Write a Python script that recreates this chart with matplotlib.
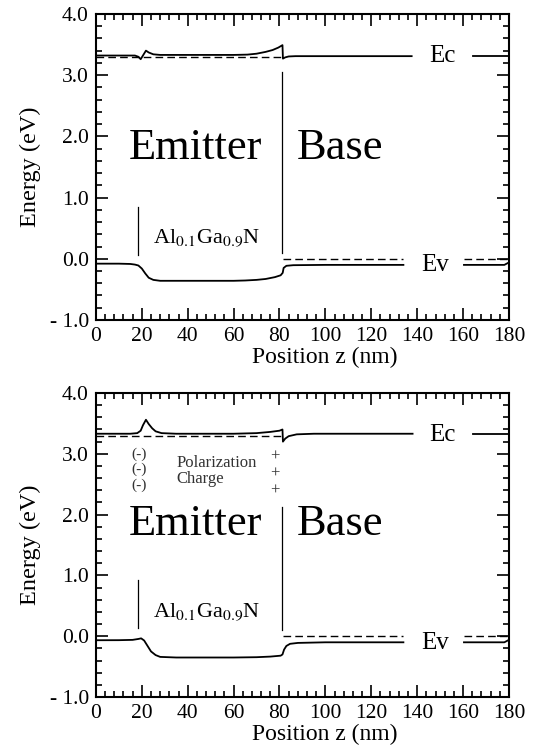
import matplotlib
matplotlib.use("Agg")
import matplotlib.pyplot as plt
from matplotlib.ticker import MultipleLocator, FuncFormatter

plt.rcParams['font.family'] = ['Liberation Serif', 'DejaVu Serif']
plt.rcParams['mathtext.fontset'] = 'stix'

# ---- datos ----
# Panel superior
top_ec_z = [0, 17, 18.5, 19.5, 21.8, 23, 25, 28, 40, 60, 66, 70, 74, 77, 79.5, 81.3, 81.5, 82.5, 84, 87, 100, 137.6]
top_ec_e = [3.32, 3.32, 3.30, 3.26, 3.40, 3.37, 3.34, 3.33, 3.33, 3.33, 3.335, 3.35, 3.38, 3.41, 3.45, 3.49, 3.27, 3.29, 3.305, 3.31, 3.31, 3.31]
top_ec2_z = [164.5, 180]
top_ec2_e = [3.31, 3.31]

top_ev_z = [0, 10, 15, 17, 18.5, 20, 21.5, 23, 25, 28, 40, 60, 65, 70, 74, 78, 80.5, 81.4, 81.8, 83, 86, 100, 134]
top_ev_e = [-0.08, -0.08, -0.085, -0.095, -0.11, -0.16, -0.24, -0.31, -0.345, -0.36, -0.36, -0.36, -0.355, -0.345, -0.33, -0.30, -0.27, -0.23, -0.15, -0.115, -0.105, -0.10, -0.10]
top_ev2_z = [160.4, 178, 180]
top_ev2_e = [-0.10, -0.10, -0.06]

# Panel inferior
bot_ec_z = [0, 15, 18, 19.5, 20.5, 21.8, 23, 24.5, 26, 28.6, 35, 60, 70, 76, 80, 81.3, 81.5, 82.5, 84, 87.5, 95, 138]
bot_ec_e = [3.33, 3.33, 3.34, 3.38, 3.47, 3.56, 3.49, 3.42, 3.37, 3.34, 3.33, 3.33, 3.34, 3.36, 3.38, 3.40, 3.20, 3.25, 3.29, 3.32, 3.33, 3.33]
bot_ec2_z = [164.5, 180]
bot_ec2_e = [3.33, 3.33]

bot_ev_z = [0, 10, 16, 18.5, 19.7, 21, 22.5, 24, 26, 28, 35, 60, 70, 76, 80.5, 81.3, 82, 83, 84.6, 88, 100, 134]
bot_ev_e = [-0.066, -0.065, -0.06, -0.045, -0.035, -0.07, -0.16, -0.25, -0.31, -0.34, -0.35, -0.35, -0.345, -0.335, -0.32, -0.30, -0.22, -0.16, -0.125, -0.11, -0.10, -0.10]
bot_ev2_z = [160.4, 178, 180]
bot_ev2_e = [-0.10, -0.10, -0.06]

# niveles de referencia (lineas punteadas)
ec_ref_z = [0, 81.4]
ec_ref_e = [3.30, 3.30]
ev_ref_z = [81.4, 134]
ev_ref2_z = [160.4, 180]
ev_ref_e = [0.0, 0.0]

# interfaces (lineas verticales)
top_vlines = [(18.5, 0.06, 0.85), (81.2, 0.09, 3.05)]
bot_vlines = [(18.5, 0.13, 0.92), (81.2, 0.10, 2.13)]

# posiciones de texto
top_txt_y = 1.63
bot_txt_y = 1.67
top_al_y = 0.25
bot_al_y = 0.32
minus_y = [3.0, 2.74, 2.48]
plus_y = [2.955, 2.68, 2.39]


def fmt_y(v, pos):
    if v < 0:
        return "- %.1f" % abs(v)
    return "%.1f" % abs(v)


def dibujar_panel(ax, ec, ec2, ev, ev2, vlines, txt_y, al_y, ev_lab_y):
    ax.plot(ec[0], ec[1], color='black', lw=1.3)
    ax.plot(ec2[0], ec2[1], color='black', lw=1.3)
    ax.plot(ev[0], ev[1], color='black', lw=1.3)
    ax.plot(ev2[0], ev2[1], color='black', lw=1.3)
    guion = (0, (5.5, 3))
    ax.plot(ec_ref_z, ec_ref_e, color='black', lw=1.0, ls=guion)
    ax.plot(ev_ref_z, ev_ref_e, color='black', lw=1.0, ls=guion)
    ax.plot(ev_ref2_z, ev_ref_e, color='black', lw=1.0, ls=guion)
    for z, e0, e1 in vlines:
        ax.plot([z, z], [e0, e1], color='black', lw=0.9)

    ax.text(43.5, txt_y, "Emitter", fontsize=32, ha='center', va='baseline')
    ax.text(106.5, txt_y, "Base", fontsize=32, ha='center', va='baseline')
    ax.text(24.7, al_y, r"Al$_{\mathrm{0.1}}$Ga$_{\mathrm{0.9}}$N", fontsize=16,
            ha='left', va='baseline')
    ax.text(151, 3.31, "Ec", fontsize=18, ha='center', va='center')
    ax.text(147.8, ev_lab_y, "Ev", fontsize=18, ha='center', va='center')

    ax.set_xlim(0, 180)
    ax.set_ylim(-1, 4)
    ax.xaxis.set_major_locator(MultipleLocator(20))
    ax.xaxis.set_minor_locator(MultipleLocator(4))
    ax.yaxis.set_major_locator(MultipleLocator(1))
    ax.yaxis.set_minor_locator(MultipleLocator(0.2))
    ax.yaxis.set_major_formatter(FuncFormatter(fmt_y))
    ax.tick_params(which='both', direction='in', top=True, right=True, width=1.2)
    ax.tick_params(which='major', length=8.5, labelsize=15.5)
    ax.tick_params(which='minor', length=4.5)
    ax.tick_params(axis='x', pad=5)
    ax.tick_params(axis='y', pad=5)
    for s in ax.spines.values():
        s.set_linewidth(1.5)
    ax.set_xlabel("Position z (nm)", fontsize=17)
    ax.xaxis.set_label_coords(0.555, -0.088)
    ax.set_ylabel("Energy (eV)", fontsize=17.5)
    ax.yaxis.set_label_coords(-0.133, 0.5)


fig = plt.figure(figsize=(5.42, 7.52), dpi=100)
ax1 = fig.add_axes([0.177, 0.5745, 0.762, 0.407])
ax2 = fig.add_axes([0.177, 0.0731, 0.762, 0.4043])

dibujar_panel(ax1, (top_ec_z, top_ec_e), (top_ec2_z, top_ec2_e),
              (top_ev_z, top_ev_e), (top_ev2_z, top_ev2_e),
              top_vlines, top_txt_y, top_al_y, -0.11)
dibujar_panel(ax2, (bot_ec_z, bot_ec_e), (bot_ec2_z, bot_ec2_e),
              (bot_ev_z, bot_ev_e), (bot_ev2_z, bot_ev2_e),
              bot_vlines, bot_txt_y, bot_al_y, -0.11)

# carga de polarizacion (solo panel inferior)
gris = '#333333'
for y in minus_y:
    ax2.text(18.9, y, "(-)", fontsize=11, ha='center', va='center', color=gris)
for y in plus_y:
    ax2.text(78, y, "+", fontsize=12, ha='center', va='center', color=gris)
ax2.text(35.1, 2.85, "Polarization", fontsize=12, ha='left', va='center', color=gris)
ax2.text(35.1, 2.59, "Charge", fontsize=12, ha='left', va='center', color=gris)

fig.savefig("out.png", dpi=100)
